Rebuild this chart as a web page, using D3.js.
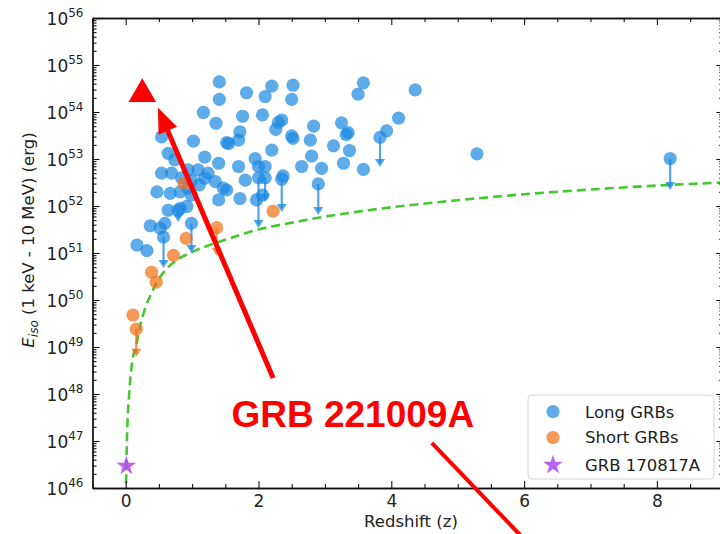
<!DOCTYPE html>
<html><head><meta charset="utf-8">
<script src="https://cdn.jsdelivr.net/npm/d3@7"></script>
<style>html,body{margin:0;padding:0;background:#fff;} svg{display:block;}</style>
</head><body>
<svg id="chart" width="720" height="534"></svg>
<script>
// ---------- data (z, log10 Eiso) ----------
const xTickValues = [0, 2, 4, 6, 8];
const yTickExponents = [46, 47, 48, 49, 50, 51, 52, 53, 54, 55, 56];

const longGRBs = [
[1.41,54.64],[2.20,54.55],[2.52,54.57],[1.82,54.41],[1.41,54.27],[2.10,54.33],[2.50,54.27],[3.58,54.62],[3.50,54.38],[4.36,54.47],
[1.17,53.99],[1.76,53.91],[2.06,53.94],[1.36,53.76],[2.35,53.83],[2.30,53.78],[2.26,53.63],[2.83,53.70],[2.50,53.49],[2.52,53.44],
[2.78,53.40],[3.25,53.77],[3.35,53.56],[3.32,53.52],[3.93,53.60],[4.11,53.87],[1.02,53.38],[0.54,53.47],[1.52,53.35],[1.72,53.58],
[1.70,53.40],[1.55,53.33],[2.20,53.19],[2.80,53.06],[3.13,53.28],[3.37,53.18],[1.95,53.01],[1.19,53.04],[1.40,52.91],[0.64,53.12],
[0.74,52.98],[2.65,52.84],[2.95,52.80],[3.28,52.91],[3.58,52.78],[1.70,52.84],[2.00,52.84],[2.10,52.84],[2.37,52.64],[0.54,52.70],
[0.69,52.70],[0.94,52.77],[1.09,52.77],[1.24,52.70],[5.29,53.11],[0.84,52.60],[0.99,52.55],[1.19,52.59],[1.35,52.52],[1.47,52.38],
[1.80,52.55],[0.47,52.30],[0.67,52.27],[0.82,52.30],[0.99,52.23],[1.40,52.13],[1.52,52.34],[1.72,52.16],[1.97,52.13],[2.06,52.23],
[0.64,51.91],[0.82,51.95],[0.92,51.99],[0.37,51.58],[0.52,51.53],[0.59,51.63],[0.17,51.17],[0.32,51.05],[0.94,52.38],[1.11,52.45]
];
// upper limits: [z, logE, arrow end logE]
const longLimits = [
[3.83,53.46,52.83],[2.90,52.47,51.81],[8.20,53.01,52.34],[2.35,52.57,51.87],[2.10,52.60,52.09],
[2.00,52.60,51.53],[0.99,51.63,51.00],[0.57,51.34,50.68],[0.79,51.91,51.66]
];
const shortGRBs = [[0.88,52.48],[2.22,51.89],[0.91,51.31],[0.72,50.95],[0.39,50.59],[0.46,50.38],[0.11,49.68]];
const shortLimits = [[1.37,51.54,50.94],[0.16,49.38,48.79]];
const grb170817A = [[0.0098,46.47]];

// detection-threshold curve
const limitZ    = [0.004,0.01,0.02,0.05,0.09,0.165,0.215,0.3,0.39,0.47,0.59,0.75,1.0,1.5,2.0,2.6,2.9,3.5,4.1,4.7,6,7,8.2,9];
const limitLogE = [45.8,46.47,47.1,47.95,48.6,49.08,49.43,49.85,50.15,50.38,50.62,50.83,51.02,51.28,51.5,51.67,51.75,51.88,51.99,52.08,52.25,52.35,52.45,52.5];

// annotation (GRB 221009A) in data coords
const grb221009A = [[0.25,54.38]];
const annotArrow = {tail:[2.22,48.34], tip:[0.486,54.09]};
const annotText = {label:"GRB 221009A", at:[3.42,47.29]};
const annotLine = {from:[4.61,46.96], to:[5.94,45.0]};

const legendLabels = ["Long GRBs","Short GRBs","GRB 170817A"];

// ---------- setup ----------
const svg = d3.select("#chart");
const L = 92.5, R = 723.3, T = 18, B = 488;
const x = d3.scaleLinear().domain([-0.5, 9]).range([L, R]);
const y = d3.scaleLog().domain([1e46, 1e56]).range([B, T]);
const Y = v => y(Math.pow(10, v));

const blue = "rgb(25,135,225)", orange = "rgb(240,110,20)", purple = "rgb(175,70,235)";
const font = "DejaVu Sans, sans-serif";

svg.append("rect").attr("width",720).attr("height",534).attr("fill","#fff");
svg.append("defs").append("clipPath").attr("id","clip")
  .append("rect").attr("x",L).attr("y",T).attr("width",R-L).attr("height",B-T);

const plot = svg.append("g").attr("clip-path","url(#clip)");

// threshold curve
const curvePts = limitZ.map((z,i)=>[z, limitLogE[i]]);
plot.append("path").datum(curvePts)
  .attr("d", d3.line().x(d=>x(d[0])).y(d=>Y(d[1])).curve(d3.curveMonotoneX))
  .attr("fill","none").attr("stroke","#45c832").attr("stroke-width",2.6)
  .attr("stroke-dasharray","9,5");

// upper-limit arrows
function drawLimits(data, color){
  const g = plot.append("g");
  data.forEach(d=>{
    const px = x(d[0]), y0 = Y(d[1]), y1 = Y(d[2]);
    g.append("line").attr("x1",px).attr("x2",px).attr("y1",y0).attr("y2",y1-4)
      .attr("stroke",color).attr("stroke-width",2.2).attr("opacity",0.75);
    g.append("path").attr("d",`M${px-5},${y1-8}L${px+5},${y1-8}L${px},${y1}Z`)
      .attr("fill",color).attr("opacity",0.75);
  });
}
drawLimits(longLimits, blue);
drawLimits(shortLimits, orange);

function drawPoints(data, color){
  plot.append("g").selectAll("circle").data(data).join("circle")
    .attr("cx",d=>x(d[0])).attr("cy",d=>Y(d[1])).attr("r",6.6)
    .attr("fill",color).attr("opacity",0.7);
}
drawPoints(longGRBs, blue);
drawPoints(longLimits, blue);
drawPoints(shortGRBs, orange);
drawPoints(shortLimits, orange);

plot.append("g").selectAll("path").data(grb170817A).join("path")
  .attr("transform",d=>`translate(${x(d[0])},${Y(d[1])})`)
  .attr("d", d3.symbol(d3.symbolStar, 120)).attr("fill",purple).attr("opacity",0.85);

// ---------- axes ----------
const minorY = [];
for (let e=46; e<56; e++) for (let m=2; m<10; m++) minorY.push(m*Math.pow(10,e));
const majorY = yTickExponents.map(e=>Math.pow(10,e));
const minorX = d3.range(-0.5, 9.01, 0.5).filter(v=>!xTickValues.includes(v));

function axisStyle(g){
  g.selectAll("path.domain").attr("stroke","#111").attr("stroke-width",1.3);
  g.selectAll(".tick line").attr("stroke","#111").attr("stroke-width",1.1);
  g.selectAll("text").remove();
}
// left
svg.append("g").attr("transform",`translate(${L},0)`)
  .call(d3.axisLeft(y).tickValues(minorY).tickSize(-4).tickSizeOuter(0).tickFormat("")).call(axisStyle);
const leftMajor = svg.append("g").attr("transform",`translate(${L},0)`)
  .call(d3.axisLeft(y).tickValues(majorY).tickSize(-7).tickSizeOuter(0).tickFormat("")).call(axisStyle);
leftMajor.selectAll(".tick").each(function(d){
  const t = d3.select(this).append("text").attr("x",-9).attr("y",0).attr("dy","0.36em")
    .attr("text-anchor","end").attr("fill","#222").attr("font-family",font).attr("font-size",17);
  t.append("tspan").text("10");
  t.append("tspan").attr("dy",-8).attr("font-size",12).text(Math.round(Math.log10(d)));
});
// right
svg.append("g").attr("transform",`translate(${R},0)`)
  .call(d3.axisRight(y).tickValues(minorY).tickSize(-4).tickSizeOuter(0).tickFormat("")).call(axisStyle);
svg.append("g").attr("transform",`translate(${R},0)`)
  .call(d3.axisRight(y).tickValues(majorY).tickSize(-7).tickSizeOuter(0).tickFormat("")).call(axisStyle);
// bottom
svg.append("g").attr("transform",`translate(0,${B})`)
  .call(d3.axisBottom(x).tickValues(minorX).tickSize(-4).tickSizeOuter(0).tickFormat("")).call(axisStyle);
const bottomMajor = svg.append("g").attr("transform",`translate(0,${B})`)
  .call(d3.axisBottom(x).tickValues(xTickValues).tickSize(-7).tickSizeOuter(0).tickFormat("")).call(axisStyle);
bottomMajor.selectAll(".tick").append("text").attr("y",19).attr("text-anchor","middle")
  .attr("fill","#222").attr("font-family",font).attr("font-size",17).text(d=>d);
// top
svg.append("g").attr("transform",`translate(0,${T})`)
  .call(d3.axisTop(x).tickValues(minorX).tickSize(-4).tickSizeOuter(0).tickFormat("")).call(axisStyle);
svg.append("g").attr("transform",`translate(0,${T})`)
  .call(d3.axisTop(x).tickValues(xTickValues).tickSize(-7).tickSizeOuter(0).tickFormat("")).call(axisStyle);

// axis labels
svg.append("text").attr("x",411).attr("y",527).attr("text-anchor","middle")
  .attr("font-family",font).attr("font-size",16.5).attr("fill","#222").text("Redshift (z)");
const yl = svg.append("text").attr("transform","translate(34,240) rotate(-90)").attr("text-anchor","middle")
  .attr("font-family",font).attr("font-size",16.5).attr("fill","#222");
yl.append("tspan").attr("font-style","italic").text("E");
yl.append("tspan").attr("font-style","italic").attr("font-size",12).attr("dy",4).text("iso");
yl.append("tspan").attr("dy",-4).text(" (1 keV - 10 MeV) (erg)");

// ---------- legend ----------
const lg = svg.append("g");
lg.append("rect").attr("x",528).attr("y",395).attr("width",186).attr("height",84).attr("rx",4)
  .attr("fill","#fff").attr("fill-opacity",0.85).attr("stroke","#d6d6d6").attr("stroke-width",1);
const rows = [411.7, 437.5, 465];
lg.append("circle").attr("cx",553).attr("cy",rows[0]).attr("r",6.6).attr("fill",blue).attr("opacity",0.7);
lg.append("circle").attr("cx",553).attr("cy",rows[1]).attr("r",6.6).attr("fill",orange).attr("opacity",0.7);
lg.append("path").attr("transform",`translate(553,${rows[2]})`).attr("d",d3.symbol(d3.symbolStar,120))
  .attr("fill",purple).attr("opacity",0.85);
legendLabels.forEach((s,i)=>{
  lg.append("text").attr("x",585).attr("y",rows[i]).attr("dy","0.36em")
    .attr("font-family",font).attr("font-size",16.5).attr("fill","#222").text(s);
});

// ---------- annotation ----------
const red = "#ff0000";
svg.selectAll("path.tri").data(grb221009A).join("path").attr("class","tri")
  .attr("transform",d=>`translate(${x(d[0])},${Y(d[1])})`)
  .attr("d", d3.symbol(d3.symbolTriangle, 330)).attr("fill",red);

const tx = x(annotArrow.tail[0]), ty = Y(annotArrow.tail[1]);
const hx = x(annotArrow.tip[0]), hy = Y(annotArrow.tip[1]);
const len = Math.hypot(hx-tx, hy-ty), ux = (hx-tx)/len, uy = (hy-ty)/len;
const headL = 25, headW = 10;
const bx = hx - ux*headL, by = hy - uy*headL;
svg.append("line").attr("x1",tx).attr("y1",ty).attr("x2",bx+ux*2).attr("y2",by+uy*2)
  .attr("stroke",red).attr("stroke-width",5);
svg.append("path").attr("d",`M${hx},${hy}L${bx-uy*headW},${by+ux*headW}L${bx+uy*headW},${by-ux*headW}Z`)
  .attr("fill",red);

svg.append("line").attr("x1",x(annotLine.from[0])).attr("y1",Y(annotLine.from[1]))
  .attr("x2",x(annotLine.to[0])).attr("y2",Y(annotLine.to[1]))
  .attr("stroke",red).attr("stroke-width",4);

svg.append("text").attr("x",x(annotText.at[0])).attr("y",Y(annotText.at[1])).attr("text-anchor","middle")
  .attr("font-family","Liberation Sans, Arial, sans-serif").attr("font-weight","bold")
  .attr("font-size",37).attr("fill",red).text(annotText.label);
</script>
</body></html>
